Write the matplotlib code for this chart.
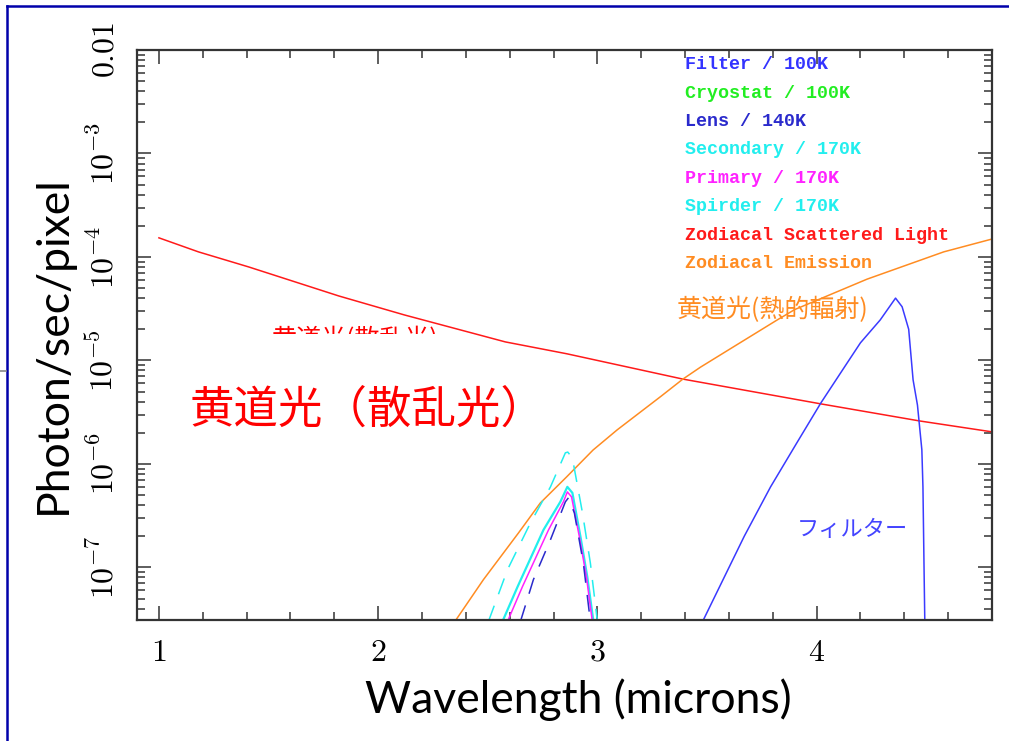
import matplotlib.pyplot as plt
from matplotlib.ticker import FixedLocator, MultipleLocator, LogLocator, NullFormatter
from matplotlib.patches import Rectangle
from matplotlib.lines import Line2D

# wavelength (microns) / photon rate per pixel
zodi_scat_x = [1.00, 1.18, 1.41, 1.82, 2.12, 2.58, 2.86, 3.39, 4.02, 4.47, 4.80]
zodi_scat_y = [1.53e-4, 1.12e-4, 8.0e-5, 4.2e-5, 2.75e-5, 1.51e-5, 1.16e-5, 6.6e-6, 3.8e-6, 2.6e-6, 2.04e-6]

zodi_emis_x = [2.35, 2.48, 2.64, 2.74, 2.86, 2.98, 3.09, 3.29, 3.39, 3.47, 3.62, 3.82, 3.90, 4.23, 4.58, 4.80]
zodi_emis_y = [3.0e-8, 7.6e-8, 2.15e-7, 4.2e-7, 7.5e-7, 1.36e-6, 2.13e-6, 4.5e-6, 6.6e-6, 8.6e-6,
               1.35e-5, 2.46e-5, 3.1e-5, 6.1e-5, 1.12e-4, 1.49e-4]

filter_x = [3.48, 3.67, 3.79, 3.91, 4.02, 4.14, 4.20, 4.29, 4.36, 4.39, 4.42, 4.44, 4.46, 4.48, 4.485, 4.490, 4.494]
filter_y = [3.0e-8, 2.0e-7, 6.0e-7, 1.6e-6, 3.9e-6, 9.5e-6, 1.48e-5, 2.46e-5, 4.0e-5, 3.3e-5, 2.0e-5,
            6.5e-6, 3.7e-6, 1.37e-6, 6.0e-7, 1.0e-7, 2.5e-8]

secondary_x = [2.567, 2.636, 2.754, 2.831, 2.863, 2.886, 2.923, 2.954, 2.982]
secondary_y = [3.0e-8, 6.5e-8, 2.3e-7, 4.3e-7, 6.0e-7, 5.25e-7, 1.97e-7, 8.1e-8, 3.0e-8]

primary_x = [2.590, 2.658, 2.777, 2.845, 2.863, 2.882, 2.918, 2.950, 2.977]
primary_y = [3.0e-8, 6.5e-8, 2.3e-7, 4.3e-7, 5.36e-7, 4.8e-7, 1.97e-7, 8.1e-8, 3.0e-8]

lens_x = [2.649, 2.708, 2.786, 2.854, 2.868, 2.895, 2.936, 2.968]
lens_y = [3.0e-8, 7.6e-8, 1.85e-7, 4.3e-7, 4.7e-7, 3.36e-7, 1.1e-7, 3.0e-8]

spider_x = [2.503, 2.590, 2.695, 2.786, 2.854, 2.865, 2.886, 2.932, 2.968, 3.000]
spider_y = [3.0e-8, 9.5e-8, 2.7e-7, 6.0e-7, 1.28e-6, 1.3e-6, 1.14e-6, 3.36e-7, 1.1e-7, 3.0e-8]

legend_labels = ['Filter / 100K', 'Cryostat / 100K', 'Lens / 140K', 'Secondary / 170K',
                 'Primary / 170K', 'Spirder / 170K', 'Zodiacal Scattered Light', 'Zodiacal Emission']
legend_colors = ['#3333ff', '#22ee22', '#2a2acc', '#22eeee', '#ff22ff', '#22eeee', '#ff1a1a', '#ff8c22']

x_ticks = [1, 2, 3, 4]
x_ticklabels = ['$1$', '$2$', '$3$', '$4$']
y_ticks = [1e-7, 1e-6, 1e-5, 1e-4, 1e-3, 1e-2]
y_ticklabels = ['$10^{-7}$', '$10^{-6}$', '$10^{-5}$', '$10^{-4}$', '$10^{-3}$', '$0.01$']

plt.rcParams['mathtext.fontset'] = 'cm'

W, H = 1009, 741
fig = plt.figure(figsize=(W / 100, H / 100), dpi=100)
ax = fig.add_axes([137 / W, 121 / H, 855 / W, 570 / H])
ax.set_yscale('log')
ax.set_xlim(0.9, 4.8)
ax.set_ylim(3.1e-8, 1e-2)

ax.plot(zodi_scat_x, zodi_scat_y, color='#ff1a1a', lw=1.1)
ax.plot(zodi_emis_x, zodi_emis_y, color='#ff8c22', lw=1.1)
ax.plot(filter_x, filter_y, color='#3a3aff', lw=1.1)
ax.plot(spider_x, spider_y, color='#22eeee', lw=1.1, dashes=(11, 8))
ax.plot(secondary_x, secondary_y, color='#22eeee', lw=1.6)
ax.plot(primary_x, primary_y, color='#ff22ff', lw=1.1)
ax.plot(lens_x, lens_y, color='#2a2acc', lw=1.1, dashes=(11, 8))

# axes frame and ticks
for s in ax.spines.values():
    s.set_linewidth(1.6)
    s.set_color('#333333')
ax.xaxis.set_major_locator(FixedLocator(x_ticks))
ax.xaxis.set_minor_locator(MultipleLocator(0.2))
ax.set_xticklabels(x_ticklabels)
ax.set_yticks(y_ticks)
ax.set_yticklabels(y_ticklabels, rotation=90, va='center')
ax.yaxis.set_minor_locator(LogLocator(base=10, subs=range(2, 10), numticks=20))
ax.yaxis.set_minor_formatter(NullFormatter())
ax.tick_params(which='both', direction='in', top=True, right=True, color='#333333', width=1.1)
ax.tick_params(which='major', length=10, labelsize=23, pad=12)
ax.tick_params(which='minor', length=5.5)

# legend as coloured text
for i, (lab, c) in enumerate(zip(legend_labels, legend_colors)):
    ax.text(0.641, 0.974 - i * 0.0498, lab, transform=ax.transAxes, color=c,
            family='Liberation Mono', weight='bold', fontsize=13.2, va='center', ha='left')

cjk = ['Noto Sans CJK JP', 'DejaVu Sans']
fig.text(190 / W, 1 - 410 / H, '黄道光（散乱光）', color='#ff0000', family=cjk,
         fontsize=32, ha='left', va='center')
fig.text(773 / W, 1 - 310 / H, '黄道光(熱的輻射)', color='#ff8c22', family=cjk,
         fontsize=18, ha='center', va='center')
fig.text(852 / W, 1 - 529 / H, 'フィルター', color='#4444ff', family=cjk,
         fontsize=16, ha='center', va='center')
t = fig.text(272 / W, 1 - 340 / H, '黄道光(散乱光)', color='#ff0000', family=cjk,
             fontsize=18, ha='left', va='center')
t.set_clip_path(Rectangle((0, 1 - 334 / H), 1, 334 / H, transform=fig.transFigure))

fig.text(53 / W, 1 - 345 / H, 'Photon/sec/pixel', family='Lato', fontsize=32,
         rotation=90, ha='center', va='center')
fig.text(578 / W, 1 - 700 / H, 'Wavelength (microns)', family='Lato', fontsize=32,
         ha='center', va='center')

# slide border
fig.add_artist(Line2D([7 / W, 7 / W], [0, 1 - 6 / H], transform=fig.transFigure, color='#0000aa', lw=1.8))
fig.add_artist(Line2D([7 / W, 1], [1 - 6 / H, 1 - 6 / H], transform=fig.transFigure, color='#0000aa', lw=1.8))
fig.add_artist(Line2D([0, 6 / W], [1 - 371 / H, 1 - 371 / H], transform=fig.transFigure, color='#888888', lw=1.2))

fig.savefig('out.png', dpi=100)
